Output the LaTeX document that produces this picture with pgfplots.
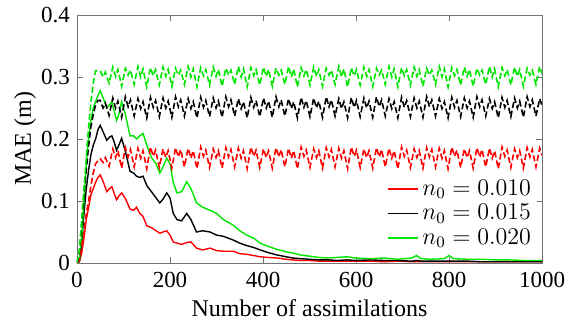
\documentclass[border=0pt]{standalone}
\usepackage{fontspec}
\setmainfont{Liberation Serif}
\usepackage{pgfplots}
\usepackage{pgfplotstable}
\pgfplotsset{compat=1.18}

\pgfplotstableread{
x g k r
0 0 0 0
5 0.005 0.003 0.002
10 0.04 0.03 0.015
15 0.10 0.08 0.04
20 0.16 0.12 0.07
25 0.20 0.15 0.09
30 0.23 0.175 0.11
35 0.25 0.19 0.12
40 0.26 0.20 0.13
45 0.27 0.215 0.138
50 0.278 0.222 0.142
57 0.265 0.21 0.13
64 0.25 0.198 0.115
70 0.255 0.203 0.12
75 0.26 0.205 0.123
80 0.245 0.195 0.112
85 0.23 0.182 0.102
90 0.24 0.19 0.108
96 0.26 0.201 0.113
104 0.24 0.18 0.104
114 0.205 0.148 0.087
122 0.205 0.145 0.085
128 0.20 0.14 0.09
135 0.205 0.138 0.08
142 0.209 0.14 0.075
150 0.19 0.125 0.06
160 0.17 0.115 0.057
170 0.16 0.105 0.052
178 0.145 0.097 0.048
185 0.155 0.103 0.05
193 0.169 0.113 0.052
200 0.16 0.105 0.045
207 0.13 0.08 0.034
215 0.113 0.07 0.032
225 0.115 0.068 0.03
236 0.131 0.08 0.033
245 0.12 0.07 0.034
257 0.097 0.05 0.024
270 0.09 0.052 0.021
286 0.085 0.05 0.024
300 0.08 0.045 0.02
315 0.07 0.043 0.019
336 0.061 0.037 0.019
350 0.052 0.032 0.015
365 0.045 0.028 0.014
380 0.04 0.025 0.012
394 0.032 0.021 0.01
410 0.027 0.017 0.009
430 0.022 0.013 0.008
450 0.018 0.01 0.006
465 0.016 0.008 0.005
480 0.013 0.007 0.004
500 0.011 0.006 0.004
520 0.009 0.005 0.003
540 0.008 0.005 0.003
560 0.009 0.004 0.003
580 0.010 0.005 0.003
600 0.008 0.004 0.003
630 0.007 0.005 0.003
660 0.008 0.004 0.002
690 0.006 0.004 0.003
720 0.008 0.003 0.002
730 0.012 0.004 0.002
740 0.007 0.003 0.002
760 0.006 0.003 0.002
790 0.007 0.003 0.002
800 0.012 0.003 0.002
810 0.007 0.003 0.002
840 0.006 0.003 0.002
870 0.006 0.002 0.002
900 0.005 0.002 0.002
930 0.005 0.002 0.002
960 0.004 0.002 0.002
1000 0.004 0.002 0.002
}\solid

\pgfplotstableread{
x g k r
0 0 0 0
5 0.02 0.015 0.005
10 0.07 0.06 0.025
15 0.12 0.11 0.05
20 0.17 0.15 0.08
25 0.22 0.19 0.10
30 0.26 0.22 0.125
35 0.29 0.24 0.145
40 0.31 0.255 0.16
45 0.31 0.262 0.165
50 0.310 0.262 0.168
56 0.300 0.250 0.162
61 0.308 0.258 0.170
69 0.290 0.238 0.156
77 0.316 0.266 0.184
83 0.301 0.250 0.170
88 0.312 0.261 0.181
96 0.285 0.235 0.153
104 0.314 0.268 0.186
110 0.303 0.252 0.171
115 0.311 0.263 0.183
123 0.288 0.237 0.155
131 0.317 0.265 0.185
137 0.300 0.249 0.169
142 0.313 0.260 0.181
150 0.284 0.234 0.152
158 0.315 0.267 0.187
164 0.302 0.251 0.172
169 0.312 0.262 0.182
177 0.287 0.236 0.154
185 0.316 0.266 0.184
191 0.301 0.250 0.170
196 0.312 0.261 0.181
204 0.285 0.235 0.153
212 0.314 0.268 0.186
218 0.303 0.252 0.171
223 0.311 0.263 0.183
231 0.288 0.237 0.155
239 0.317 0.265 0.185
245 0.300 0.249 0.169
250 0.313 0.260 0.181
258 0.284 0.234 0.152
266 0.315 0.267 0.187
272 0.302 0.251 0.172
277 0.312 0.262 0.182
285 0.287 0.236 0.154
293 0.316 0.266 0.184
299 0.301 0.250 0.170
304 0.312 0.261 0.181
312 0.285 0.235 0.153
320 0.314 0.268 0.186
326 0.303 0.252 0.171
331 0.311 0.263 0.183
339 0.288 0.237 0.155
347 0.317 0.265 0.185
353 0.300 0.249 0.169
358 0.313 0.260 0.181
366 0.284 0.234 0.152
374 0.315 0.267 0.187
380 0.302 0.251 0.172
385 0.312 0.262 0.182
393 0.287 0.236 0.154
401 0.316 0.266 0.184
407 0.301 0.250 0.170
412 0.312 0.261 0.181
420 0.285 0.235 0.153
428 0.314 0.268 0.186
434 0.303 0.252 0.171
439 0.311 0.263 0.183
447 0.288 0.237 0.155
455 0.317 0.265 0.185
461 0.300 0.249 0.169
466 0.313 0.260 0.181
474 0.284 0.234 0.152
482 0.315 0.267 0.187
488 0.302 0.251 0.172
493 0.312 0.262 0.182
501 0.287 0.236 0.154
509 0.316 0.266 0.184
515 0.301 0.250 0.170
520 0.312 0.261 0.181
528 0.285 0.235 0.153
536 0.314 0.268 0.186
542 0.303 0.252 0.171
547 0.311 0.263 0.183
555 0.288 0.237 0.155
563 0.317 0.265 0.185
569 0.300 0.249 0.169
574 0.313 0.260 0.181
582 0.284 0.234 0.152
590 0.315 0.267 0.187
596 0.302 0.251 0.172
601 0.312 0.262 0.182
609 0.287 0.236 0.154
617 0.316 0.266 0.184
623 0.301 0.250 0.170
628 0.312 0.261 0.181
636 0.285 0.235 0.153
644 0.314 0.268 0.186
650 0.303 0.252 0.171
655 0.311 0.263 0.183
663 0.288 0.237 0.155
671 0.317 0.265 0.185
677 0.300 0.249 0.169
682 0.313 0.260 0.181
690 0.284 0.234 0.152
698 0.315 0.267 0.187
704 0.302 0.251 0.172
709 0.312 0.262 0.182
717 0.287 0.236 0.154
725 0.316 0.266 0.184
731 0.301 0.250 0.170
736 0.312 0.261 0.181
744 0.285 0.235 0.153
752 0.314 0.268 0.186
758 0.303 0.252 0.171
763 0.311 0.263 0.183
771 0.288 0.237 0.155
779 0.317 0.265 0.185
785 0.300 0.249 0.169
790 0.313 0.260 0.181
798 0.284 0.234 0.152
806 0.315 0.267 0.187
812 0.302 0.251 0.172
817 0.312 0.262 0.182
825 0.287 0.236 0.154
833 0.316 0.266 0.184
839 0.301 0.250 0.170
844 0.312 0.261 0.181
852 0.285 0.235 0.153
860 0.314 0.268 0.186
866 0.303 0.252 0.171
871 0.311 0.263 0.183
879 0.288 0.237 0.155
887 0.317 0.265 0.185
893 0.300 0.249 0.169
898 0.313 0.260 0.181
906 0.284 0.234 0.152
914 0.315 0.267 0.187
920 0.302 0.251 0.172
925 0.312 0.262 0.182
933 0.287 0.236 0.154
941 0.316 0.266 0.184
947 0.301 0.250 0.170
952 0.312 0.261 0.181
960 0.285 0.235 0.153
968 0.314 0.268 0.186
974 0.303 0.252 0.171
979 0.311 0.263 0.183
987 0.288 0.237 0.155
995 0.317 0.265 0.185
1000 0.305 0.254 0.174
}\dashedt

\definecolor{mred}{RGB}{255,0,0}
\definecolor{mgreen}{RGB}{0,230,0}

\begin{document}
\begin{tikzpicture}
\begin{axis}[
  scale only axis,
  width=232.5pt, height=124pt,
  xmin=0, xmax=1000, ymin=0, ymax=0.4,
  xtick={0,200,400,600,800,1000},
  xticklabels={0,200,400,600,800,1000},
  ytick={0,0.1,0.2,0.3,0.4},
  yticklabels={0,0.1,0.2,0.3,0.4},
  tick align=inside,
  tick pos=both,
  major tick length=3pt,
  axis line style={black!55},
  every tick/.style={black!55},
  tick label style={font=\rmfamily\fontsize{11.5}{12}\selectfont},
  xticklabel style={yshift=-1pt},
  xlabel={Number of assimilations},
  label style={font=\rmfamily\fontsize{12}{13}\selectfont},
  xlabel style={at={(axis description cs:0.5,0)}, anchor=center, yshift=-22.5pt},
  legend style={draw=none, fill=white, at={(axis cs:990,0.015)}, anchor=south east,
    font=\fontsize{11.5}{12}\selectfont, row sep=-1pt, inner sep=1pt},
  legend cell align=left,
  legend image code/.code={\draw[#1] (0pt,0pt) -- (15pt,0pt);},
]
\addplot[mred, line width=0.7pt] table[x=x,y=r] {\solid};
\addlegendentry{$n_0=0.010$}
\addplot[black, line width=0.7pt] table[x=x,y=k] {\solid};
\addlegendentry{$n_0=0.015$}
\addplot[mgreen, line width=0.7pt] table[x=x,y=g] {\solid};
\addlegendentry{$n_0=0.020$}
\addplot[mred, line width=0.8pt, dash pattern=on 3pt off 1.5pt, forget plot] table[x=x,y=r] {\dashedt};
\addplot[black, line width=0.8pt, dash pattern=on 3pt off 1.5pt, forget plot] table[x=x,y=k] {\dashedt};
\addplot[mgreen, line width=0.8pt, dash pattern=on 3pt off 1.5pt, forget plot] table[x=x,y=g] {\dashedt};
\end{axis}
\node[rotate=90, font=\rmfamily\fontsize{12}{13}\selectfont] at (-26pt,62pt) {MAE (m)};
\pgfresetboundingbox
\path (-38.5pt,-30.5pt) rectangle (245.5pt,131.5pt);
\end{tikzpicture}
\end{document}
